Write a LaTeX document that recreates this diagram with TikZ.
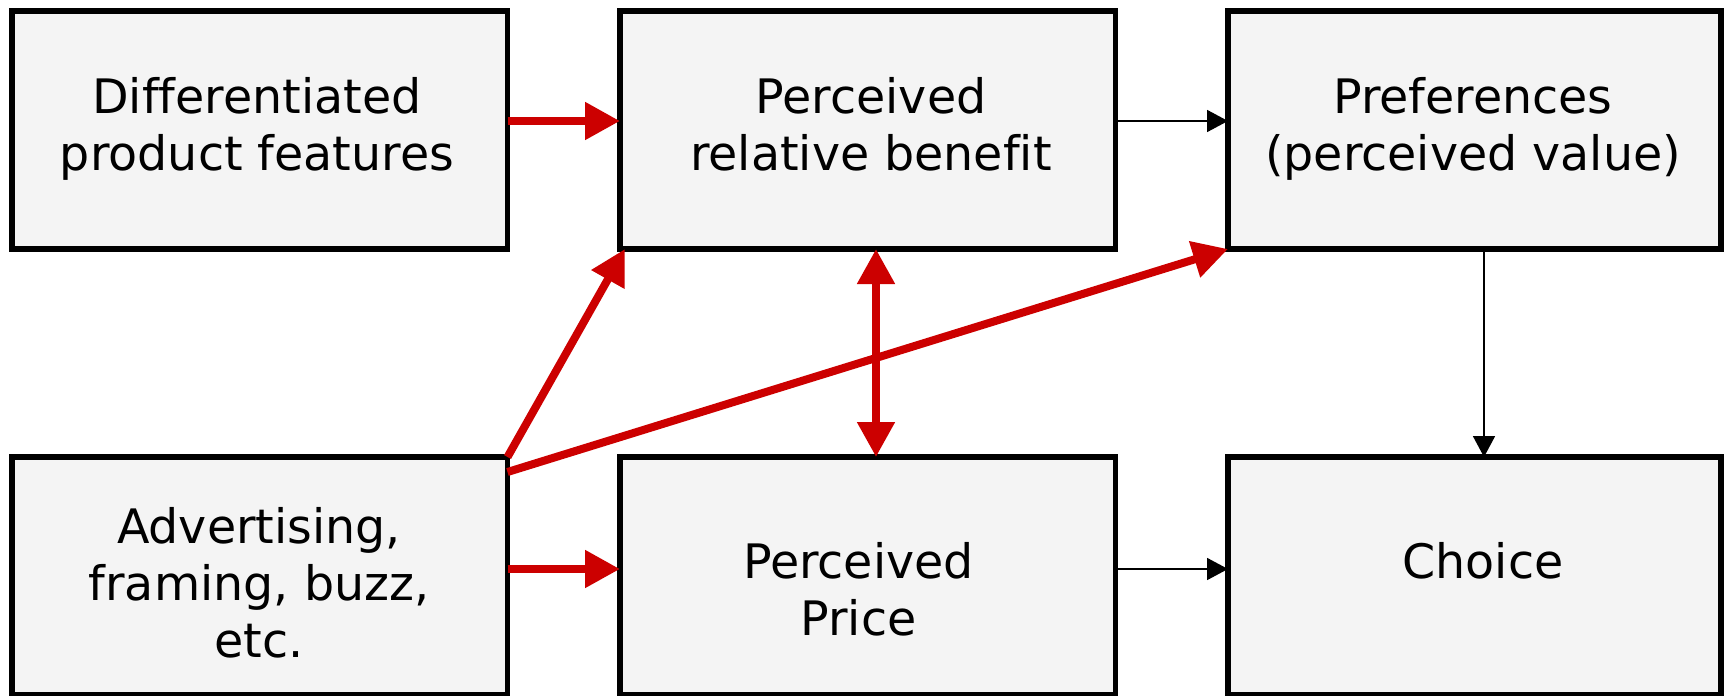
\documentclass[tikz,border=0pt]{standalone}
\usepackage{fontspec}
\setmainfont{DejaVu Sans}[Ligatures=NoCommon]
\usetikzlibrary{arrows.meta,calc}
\definecolor{arrred}{RGB}{204,0,0}
\definecolor{boxfill}{RGB}{244,244,244}
\begin{document}
\begin{tikzpicture}[x=1pt,y=-1pt,
  box/.style={draw=black, line width=5.5pt, fill=boxfill, rectangle, minimum width=495.5pt, minimum height=238pt, inner sep=0pt, outer sep=0pt},
  txt/.style={anchor=base, inner sep=0pt, font=\fontsize{47.5}{57}\selectfont},
  redarrow/.style={draw=arrred, line width=8pt, -{Triangle[length=35pt,width=36pt]}},
  redboth/.style={draw=arrred, line width=8pt, {Triangle[length=35pt,width=36pt]}-{Triangle[length=35pt,width=36pt]}},
  blackarrow/.style={draw=black, line width=1.8pt, -{Triangle[length=21pt,width=22pt]}}]
\useasboundingbox (0,0) rectangle (1724,696);

\node[box] (b1) at (259.75,130) {};
\node[box] (b2) at (867.75,130) {};
\node[box, minimum width=493pt] (b3) at (1474.5,130) {};
\node[box] (b4) at (259.75,576) {};
\node[box] (b5) at (867.75,576) {};
\node[box, minimum width=493pt] (b6) at (1474.5,576) {};

\node[txt] (t1) at (257,113) {\begin{tabular}[t]{@{}c@{}}Differentiated\\product features\end{tabular}};
\node[txt] (t2) at (871,113) {\begin{tabular}[t]{@{}c@{}}Perceived\\relative benefit\end{tabular}};
\node[txt] (t3) at (1473,113) {\begin{tabular}[t]{@{}c@{}}Preferences\\(perceived value)\end{tabular}};
\node[txt] (t4) at (259,543) {\begin{tabular}[t]{@{}c@{}}Advertising,\\framing, buzz,\\etc.\end{tabular}};
\node[txt] (t5) at (858.5,578) {\begin{tabular}[t]{@{}c@{}}Perceived\\Price\end{tabular}};
\node[txt] (t6) at (1483,578) {Choice};

\coordinate (ytop) at (0,121);
\coordinate (ybot) at (0,569);
\coordinate (xmid) at (876,0);
\coordinate (xright) at (1484,0);

\draw[redarrow] (b1.east |- ytop) -- (b2.west |- ytop);
\draw[blackarrow] (b2.east |- ytop) -- (b3.west |- ytop);
\draw[redarrow] (b4.east |- ybot) -- (b5.west |- ybot);
\draw[blackarrow] (b5.east |- ybot) -- (b6.west |- ybot);
\draw[blackarrow] (b3.south -| xright) -- (b6.north -| xright);
\draw[redboth] (b2.south -| xmid) -- (b5.north -| xmid);
\draw[redarrow] (b4.north east) -- ($(b2.south west)+(5,0)$);
\draw[redarrow] ($(b4.north east)+(0,15)$) -- (b3.south west);
\end{tikzpicture}
\end{document}
